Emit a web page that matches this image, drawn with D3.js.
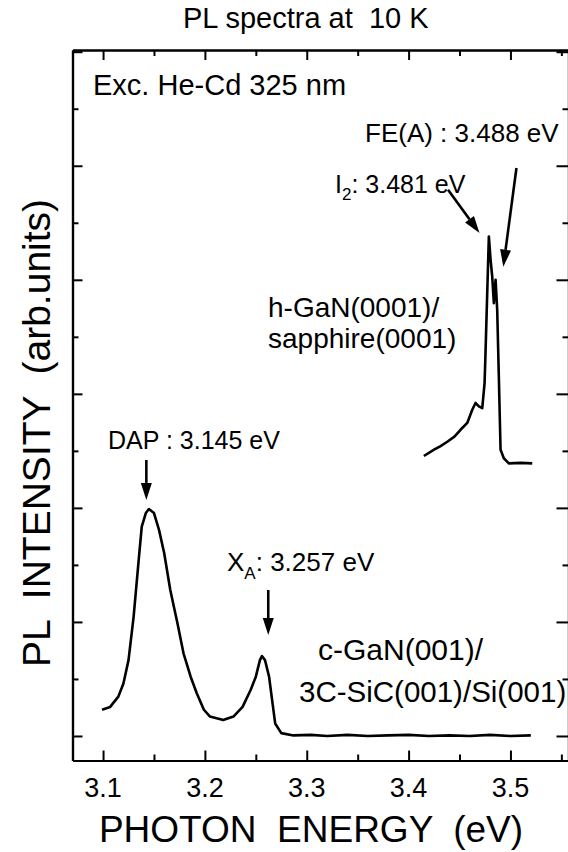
<!DOCTYPE html>
<html>
<head>
<meta charset="utf-8">
<script src="https://cdn.jsdelivr.net/npm/d3@7"></script>
<style>
  body { margin: 0; background: #fff; }
  svg { display: block; font-family: "Liberation Sans", Arial, Helvetica, sans-serif; }
  text { white-space: pre; fill: #000; }
</style>
</head>
<body>
<div id="chart"></div>
<script>
// c-GaN(001)/3C-SiC(001)/Si(001) spectrum (eV, arb. units)
const energyCubic = [3.099, 3.107, 3.115, 3.120, 3.125, 3.130, 3.135, 3.138, 3.142, 3.145,
    3.150, 3.155, 3.160, 3.166, 3.173, 3.179, 3.186, 3.192, 3.199, 3.205,
    3.218, 3.228, 3.237, 3.245, 3.250, 3.254, 3.256, 3.259, 3.263, 3.266,
    3.269, 3.275, 3.287, 3.304, 3.32, 3.34, 3.36, 3.38, 3.40, 3.42,
    3.44, 3.46, 3.48, 3.50, 3.52];
const intensityCubic = [0.46, 0.51, 0.69, 0.92, 1.33, 2.09, 3.09, 3.67, 3.91, 3.98,
    3.91, 3.61, 3.21, 2.56, 1.98, 1.45, 1.04, 0.75, 0.46, 0.34,
    0.28, 0.34, 0.51, 0.81, 1.04, 1.33, 1.40, 1.33, 1.04, 0.63,
    0.22, 0.05, 0.01, 0.02, 0.00, 0.02, 0.00, 0.01, 0.02, 0.00,
    0.01, 0.00, 0.02, 0.00, 0.01];

// h-GaN(0001)/sapphire(0001) spectrum
const energyHex = [3.415, 3.425, 3.431, 3.438, 3.445, 3.451, 3.4576, 3.4625, 3.4657, 3.469,
    3.4723, 3.4746, 3.4755, 3.4772, 3.4788, 3.4805, 3.4821, 3.4837, 3.4854, 3.487,
    3.4886, 3.4903, 3.4935, 3.4984, 3.51, 3.5214];
const intensityHex = [4.91, 5.02, 5.08, 5.16, 5.25, 5.37, 5.49, 5.72, 5.84, 5.78,
    5.75, 6.19, 6.71, 7.77, 8.76, 8.35, 8.06, 7.59, 8.00, 7.47,
    6.30, 5.02, 4.87, 4.78, 4.79, 4.78];

// axis ticks
const xMajorTicks = [3.1, 3.2, 3.3, 3.4, 3.5];
const xMinorTicks = [3.15, 3.25, 3.35, 3.45, 3.55];
const yMajorTicks = [0, 2, 4, 6, 8, 10, 12];
const yMinorTicks = [1, 3, 5, 7, 9, 11];

// arrows pointing at the peaks (start -> tip, in data units)
const arrowNames = ["DAP", "XA", "I2", "FE"];
const arrowStartE = [3.1425, 3.2622, 3.4387, 3.5059];
const arrowStartI = [4.84, 2.56, 9.58, 9.96];
const arrowEndE = [3.1425, 3.2622, 3.4696, 3.4930];
const arrowEndI = [4.14, 1.77, 8.82, 8.23];

const width = 568, height = 852;
const plotLeft = 72.5, plotRight = 568.5, plotTop = 50, plotBottom = 760.5;

const svg = d3.select("#chart").append("svg")
    .attr("width", width)
    .attr("height", height);

const x = d3.scaleLinear().domain([3.07, 3.557]).range([plotLeft, plotRight]);
const y = d3.scaleLinear().domain([-0.43, 12.03]).range([plotBottom, plotTop]);

// ejes: ticks hacia dentro en los cuatro lados
function drawAxis(gen, transform, values, size) {
    const g = svg.append("g")
        .attr("transform", transform)
        .call(gen.tickValues(values).tickSizeInner(size).tickSizeOuter(0).tickFormat(""));
    g.select(".domain").attr("stroke", "#000").attr("stroke-width", 2.2);
    g.selectAll(".tick line").attr("stroke", "#000").attr("stroke-width", 2);
    return g;
}
drawAxis(d3.axisBottom(x), `translate(0,${plotBottom})`, xMajorTicks, -10);
drawAxis(d3.axisBottom(x), `translate(0,${plotBottom})`, xMinorTicks, -6);
drawAxis(d3.axisTop(x), `translate(0,${plotTop})`, xMajorTicks, -10);
drawAxis(d3.axisTop(x), `translate(0,${plotTop})`, xMinorTicks, -6);
drawAxis(d3.axisLeft(y), `translate(${plotLeft},0)`, yMajorTicks, -10);
drawAxis(d3.axisLeft(y), `translate(${plotLeft},0)`, yMinorTicks, -6);
drawAxis(d3.axisRight(y), `translate(${plotRight},0)`, yMajorTicks, -12);
drawAxis(d3.axisRight(y), `translate(${plotRight},0)`, yMinorTicks, -6);

// tick labels
svg.append("g").selectAll("text")
    .data(xMajorTicks)
    .enter()
    .append("text")
    .attr("x", d => x(d))
    .attr("y", 797)
    .attr("text-anchor", "middle")
    .style("font-size", "27px")
    .text(d => d.toFixed(1));

// curves
const line = d3.line()
    .x(d => x(d[0]))
    .y(d => y(d[1]));

svg.append("path")
    .datum(d3.zip(energyCubic, intensityCubic))
    .attr("d", line)
    .attr("fill", "none")
    .attr("stroke", "#000")
    .attr("stroke-width", 2.6)
    .attr("stroke-linejoin", "round");

svg.append("path")
    .datum(d3.zip(energyHex, intensityHex))
    .attr("d", line)
    .attr("fill", "none")
    .attr("stroke", "#000")
    .attr("stroke-width", 2.6)
    .attr("stroke-linejoin", "round");

// arrows
arrowNames.forEach((name, i) => {
    const x1 = x(arrowStartE[i]), y1 = y(arrowStartI[i]);
    const x2 = x(arrowEndE[i]), y2 = y(arrowEndI[i]);
    const ang = Math.atan2(y2 - y1, x2 - x1);
    const headLen = 17, headHalf = 5.5;
    const bx = x2 - headLen * Math.cos(ang), by = y2 - headLen * Math.sin(ang);
    svg.append("line")
        .attr("x1", x1).attr("y1", y1)
        .attr("x2", bx).attr("y2", by)
        .attr("stroke", "#000")
        .attr("stroke-width", 2.6);
    const pts = [
        [x2, y2],
        [bx + headHalf * Math.sin(ang), by - headHalf * Math.cos(ang)],
        [bx - headHalf * Math.sin(ang), by + headHalf * Math.cos(ang)]
    ];
    svg.append("polygon")
        .attr("points", pts.map(p => p.join(",")).join(" "))
        .attr("fill", "#000");
});

// textos
function label(txt, px, py, size, anchor) {
    return svg.append("text")
        .attr("x", px)
        .attr("y", py)
        .attr("text-anchor", anchor || "start")
        .style("font-size", size + "px")
        .text(txt);
}

label("PL spectra at  10 K", 183, 28, 29);
label("Exc. He-Cd 325 nm", 93, 95, 29);
label("FE(A) : 3.488 eV", 365, 142, 26);

const i2 = label("I", 335, 193, 25);
i2.append("tspan").attr("dy", 7).style("font-size", "17px").text("2");
i2.append("tspan").attr("dy", -7).text(": 3.481 eV");

label("DAP : 3.145 eV", 108, 449, 25);

const xa = label("X", 227, 571, 26);
xa.append("tspan").attr("dy", 8).style("font-size", "17px").text("A");
xa.append("tspan").attr("dy", -8).text(": 3.257 eV");

label("h-GaN(0001)/", 268, 317, 28);
label("sapphire(0001)", 268, 348, 28);
label("c-GaN(001)/", 318, 660, 30);
label("3C-SiC(001)/Si(001)", 299, 702, 29.5);

// axis titles
label("PHOTON  ENERGY  (eV)", 311, 842, 37, "middle");
svg.append("text")
    .attr("transform", "translate(50,433) rotate(-90)")
    .attr("text-anchor", "middle")
    .style("font-size", "39px")
    .text("PL  INTENSITY  (arb.units)");
</script>
</body>
</html>
